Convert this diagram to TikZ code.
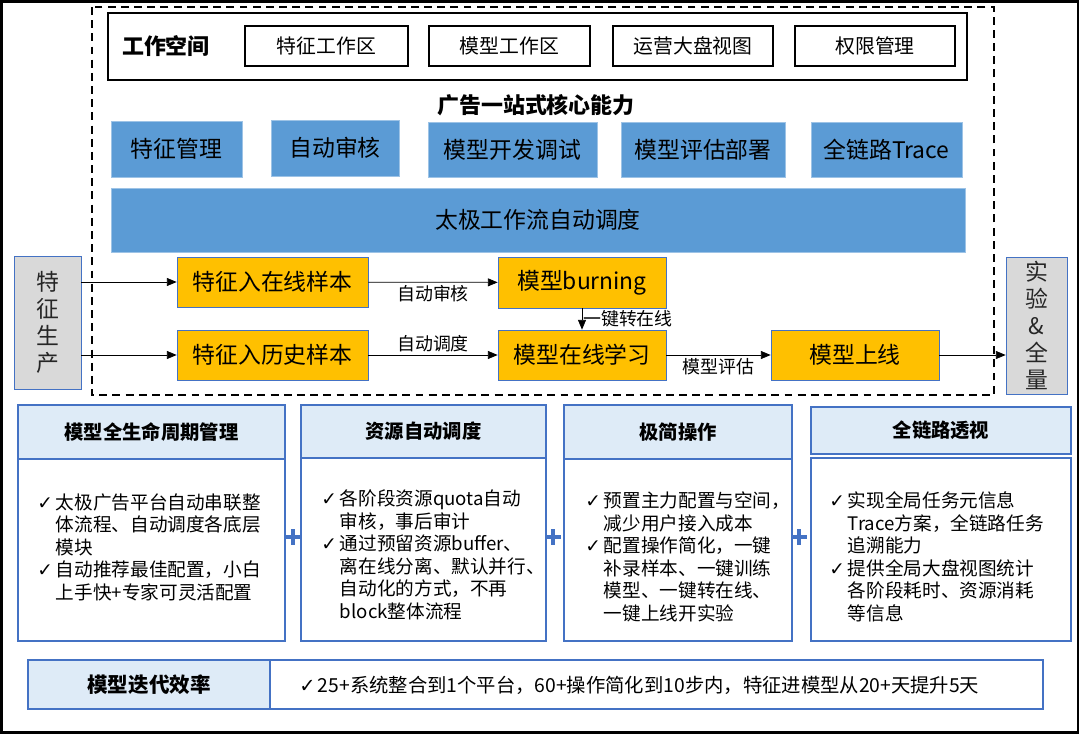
\documentclass[tikz,border=0pt]{standalone}
\usepackage{fontspec}
\setmainfont{Noto Sans CJK SC}
\newfontfamily\symfont{DejaVu Sans}
\usetikzlibrary{arrows.meta}
\definecolor{capblue}{RGB}{91,155,213}
\definecolor{lineblue}{RGB}{68,114,196}
\definecolor{hdrblue}{RGB}{222,235,247}
\definecolor{gold}{RGB}{255,192,0}
\definecolor{sidegray}{RGB}{217,217,217}
\newcommand\chk{\makebox[10.6pt][l]{\symfont ✓}}
\newcommand\nochk{\makebox[10.6pt]{}}

\begin{document}
\begin{tikzpicture}[x=0.02cm,y=-0.02cm,>={Triangle[length=5.5pt,width=4.5pt]},
  sz/.style 2 args={minimum width=#1*0.02cm,minimum height=#2*0.02cm},
  ws/.style={draw,line width=0.9pt,inner sep=0pt,font=\fontsize{11.3pt}{13pt}\selectfont},
  capbox/.style={fill=capblue,draw=capblue!60!white,inner sep=0pt,font=\fontsize{13pt}{15pt}\selectfont},
  flow/.style={fill=gold,draw=lineblue,inner sep=0pt,font=\fontsize{13pt}{15pt}\selectfont},
  side/.style={fill=sidegray,draw=lineblue,inner sep=0pt,align=center,text=black!85,font=\fontsize{13pt}{15.3pt}\selectfont},
  hdr/.style={fill=hdrblue,draw=lineblue,line width=0.9pt,inner sep=0pt,font=\fontsize{11pt}{13pt}\selectfont\bfseries},
  panel/.style={draw=lineblue,line width=0.9pt,inner sep=0pt},
  item/.style={anchor=west,align=left,inner sep=0pt,font=\fontsize{10.6pt}{12.8pt}\selectfont},
  lbl/.style={inner sep=1.5pt,font=\fontsize{10.2pt}{12pt}\selectfont},
  plus/.style={draw=lineblue,line width=2.3pt}]
\useasboundingbox (0,0) rectangle (1080,734);
\draw[line width=1.4pt] (1.5,1.5) rectangle (1078,732.5);
\draw[line width=1pt,dash pattern=on 4.5pt off 3pt] (92,7) rectangle (994,395);

% workspace
\draw[line width=1.3pt] (108,13) rectangle (967,80);
\node[font=\fontsize{12.5pt}{14pt}\selectfont\bfseries] (wsname) at (166,46) {工作空间};
\node[ws,sz={163}{40}] (ws1) at (326.5,46) {特征工作区};
\node[ws,sz={161}{40}] (ws2) at (509.5,46) {模型工作区};
\node[ws,sz={160}{40}] (ws3) at (693,46) {运营大盘视图};
\node[ws,sz={160}{40}] (ws4) at (875,46) {权限管理};

% core abilities
\node[font=\fontsize{12.5pt}{14pt}\selectfont\bfseries] (coretitle) at (536,105) {广告一站式核心能力};
\node[capbox,sz={131}{56}] (c1) at (176.5,149) {特征管理};
\node[capbox,sz={128}{56}] (c2) at (335,148) {自动审核};
\node[capbox,sz={169}{55}] (c3) at (512.5,149.5) {模型开发调试};
\node[capbox,sz={164}{55}] (c4) at (703,149.5) {模型评估部署};
\node[capbox,sz={151}{55}] (c5) at (886.5,149.5) {全链路Trace};
\node[capbox,sz={854}{64}] (sched) at (538,220) {太极工作流自动调度};

% flow
\node[side,sz={67}{133}] (prod) at (47.5,322.5) {特\\征\\生\\产};
\node[side,sz={61}{137}] (exp) at (1036.5,325.5) {实\\验\\\&\\全\\量};
\node[flow,sz={191}{50}] (onl) at (272.5,282) {特征入在线样本};
\node[flow,sz={191}{50}] (hist) at (272.5,355) {特征入历史样本};
\node[flow,sz={168}{51}] (burn) at (582,282.5) {模型burning};
\node[flow,sz={168}{50}] (learn) at (582,355) {模型在线学习};
\node[flow,sz={168}{50}] (launch) at (855,355) {模型上线};

\draw[->] (prod.east |- onl.west) -- (onl.west);
\draw[->] (prod.east |- hist.west) -- (hist.west);
\draw[->] (onl) -- node[lbl,below] {自动审核} (burn);
\draw[->] (hist) -- node[lbl,above] {自动调度} (learn);
\draw[->] (burn) -- node[lbl,right,inner sep=0.5pt] {一键转在线} (learn);
\draw[->] (learn) -- node[lbl,below] {模型评估} (launch);
\draw[->] (launch) -- (exp.west |- launch.east);

% bottom panels
\node[hdr,sz={267}{54}] (h1) at (151.5,432) {模型全生命周期管理};
\node[panel,sz={267}{182}] (p1) at (151.5,550) {};
\node[item] (t1) at (37,547) {\chk 太极广告平台自动串联整\\ \nochk 体流程、自动调度各底层\\ \nochk 模块\\
  \chk 自动推荐最佳配置，小白\\ \nochk 上手快+专家可灵活配置};

\node[hdr,sz={245}{53}] (h2) at (423.5,431.5) {资源自动调度};
\node[panel,sz={245}{183}] (p2) at (423.5,549.5) {};
\node[item] (t2) at (321,555) {\chk 各阶段资源quota自动\\ \nochk 审核，事后审计\\
  \chk 通过预留资源buffer、\\ \nochk 离在线分离、默认并行、\\ \nochk 自动化的方式，不再\\ \nochk block整体流程};

\node[hdr,sz={228}{54}] (h3) at (678,432) {极简操作};
\node[panel,sz={228}{182}] (p3) at (678,550) {};
\node[item] (t3) at (585,557) {\chk 预置主力配置与空间，\\ \nochk 减少用户接入成本\\
  \chk 配置操作简化，一键\\ \nochk 补录样本、一键训练\\ \nochk 模型、一键转在线、\\ \nochk 一键上线开实验};

\node[hdr,sz={260}{47}] (h4) at (941,430.5) {全链路透视};
\node[panel,line width=1.6pt,sz={260}{183}] (p4) at (941,549.5) {};
\node[item] (t4) at (829,557) {\chk 实现全局任务元信息\\ \nochk Trace方案，全链路任务\\ \nochk 追溯能力\\
  \chk 提供全局大盘视图统计\\ \nochk 各阶段耗时、资源消耗\\ \nochk 等信息};

\draw[plus] (285,537) -- (301,537) (293,529) -- (293,545);
\draw[plus] (545,537) -- (561,537) (553,529) -- (553,545);
\draw[plus] (791,537) -- (807,537) (799,529) -- (799,545);

% efficiency row
\node[hdr,font=\fontsize{11.7pt}{13pt}\selectfont\bfseries,sz={242}{49}] (effname) at (149,684.5) {模型迭代效率};
\node[panel,sz={773}{49}] (effbox) at (656.5,684.5) {};
\node[item,font=\fontsize{11pt}{13pt}\selectfont] (efftext) at (299,685) {\chk 25+系统整合到1个平台，60+操作简化到10步内，特征进模型从20+天提升5天};
\end{tikzpicture}
\end{document}
